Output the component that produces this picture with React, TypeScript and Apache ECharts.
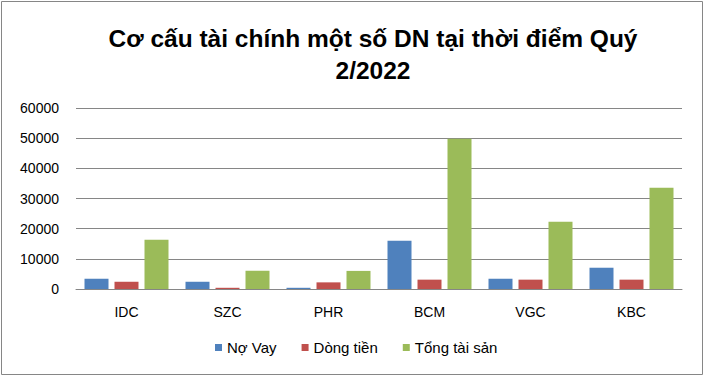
import React, { useEffect, useRef } from "react";
import * as echarts from "echarts";

const categories = ["IDC", "SZC", "PHR", "BCM", "VGC", "KBC"];
const noVay = [3400, 2400, 400, 16000, 3400, 7050];
const dongTien = [2400, 400, 2200, 3100, 3100, 3100];
const tongTaiSan = [16350, 6050, 6000, 49800, 22300, 33600];
const seriesNames = ["Nợ Vay", "Dòng tiền", "Tổng tài sản"];
const colors = ["#4F81BD", "#C0504D", "#9BBB59"];
const titleText = "Cơ cấu tài chính một số DN tại thời điểm Quý\n2/2022";

const FONT = "Liberation Sans";

export default function App() {
  const ref = useRef<HTMLDivElement>(null);
  useEffect(() => {
    const chart = echarts.init(ref.current!, null, { renderer: "svg" });
    const data = [noVay, dongTien, tongTaiSan];
    chart.setOption({
      animation: false,
      backgroundColor: "#ffffff",
      textStyle: { fontFamily: FONT },
      graphic: [
        {
          type: "rect",
          shape: { x: 1.5, y: 1.5, width: 701, height: 373 },
          style: { fill: "none", stroke: "#868686", lineWidth: 1 },
          silent: true,
        },
        {
          type: "text",
          x: 373,
          y: 22,
          silent: true,
          style: {
            text: titleText,
            align: "center",
            verticalAlign: "top",
            fontFamily: FONT,
            fontSize: 24.5,
            fontWeight: "bold",
            fill: "#000000",
            lineHeight: 32,
          },
        },
      ],
      legend: {
        bottom: 17,
        left: 210,
        itemWidth: 7,
        itemHeight: 7,
        itemGap: 25,
        icon: "rect",
        textStyle: { fontFamily: FONT, fontSize: 15, color: "#000000" },
        data: seriesNames,
      },
      grid: { left: 76, right: 23, top: 108, bottom: 88 },
      xAxis: {
        type: "category",
        data: categories,
        axisLine: { lineStyle: { color: "#868686" } },
        axisTick: { show: false },
        axisLabel: { fontFamily: FONT, fontSize: 14, color: "#000000", margin: 16 },
      },
      yAxis: {
        type: "value",
        min: 0,
        max: 60000,
        interval: 10000,
        axisLine: { show: false },
        axisTick: { show: false },
        splitLine: { lineStyle: { color: "#868686" } },
        axisLabel: {
          fontFamily: FONT,
          fontSize: 14,
          color: "#000000",
          margin: 17,
          formatter: (v: number) => String(v),
        },
      },
      series: seriesNames.map((name, i) => ({
        name,
        type: "bar",
        data: data[i],
        barWidth: 24,
        barGap: "25%",
        itemStyle: { color: colors[i] },
      })),
    });
    return () => chart.dispose();
  }, []);
  return (
    <div
      ref={ref}
      style={{ position: "absolute", left: 0, top: 0, width: 705, height: 377 }}
    />
  );
}
